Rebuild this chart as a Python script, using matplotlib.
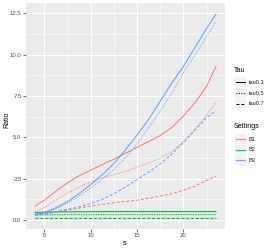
import matplotlib
matplotlib.use("Agg")
import matplotlib.pyplot as plt
from matplotlib.lines import Line2D
from matplotlib.patches import Rectangle
import numpy as np

plt.rcParams["font.family"] = ["Liberation Sans", "DejaVu Sans"]

s = [4, 5, 6.25, 7.5, 8.75, 10, 11.25, 12.5, 13.75, 15, 16.25, 17.5, 18.75,
     20, 21.25, 22.5, 23.5]

B1_tau03 = [0.85, 1.2, 1.75, 2.25, 2.68, 3.02, 3.36, 3.68, 4.05, 4.4, 4.75,
            5.12, 5.6, 6.3, 7.1, 8.1, 9.3]
B1_tau05 = [0.5, 0.75, 1.2, 1.65, 2.0, 2.3, 2.55, 2.75, 2.95, 3.2, 3.45,
            3.75, 4.15, 4.75, 5.5, 6.35, 7.15]
B1_tau07 = [0.3, 0.4, 0.5, 0.6, 0.72, 0.85, 0.95, 1.05, 1.12, 1.2, 1.32,
            1.45, 1.6, 1.8, 2.05, 2.4, 2.65]

B2_tau03 = [0.46, 0.48, 0.5, 0.5, 0.51, 0.51, 0.52, 0.52, 0.52, 0.52, 0.52,
            0.52, 0.52, 0.52, 0.52, 0.52, 0.52]
B2_tau05 = [0.32, 0.33, 0.33, 0.34, 0.34, 0.34, 0.34, 0.34, 0.34, 0.34, 0.34,
            0.34, 0.34, 0.34, 0.34, 0.34, 0.34]
B2_tau07 = [0.12, 0.12, 0.12, 0.12, 0.12, 0.12, 0.12, 0.12, 0.12, 0.12, 0.12,
            0.12, 0.12, 0.12, 0.12, 0.12, 0.12]

B3_tau03 = [0.35, 0.45, 0.75, 1.12, 1.6, 2.15, 2.75, 3.42, 4.25, 5.15, 6.1,
            7.2, 8.3, 9.3, 10.45, 11.6, 12.45]
B3_tau05 = [0.3, 0.4, 0.68, 1.02, 1.45, 1.95, 2.48, 3.05, 3.77, 4.6, 5.6,
            6.6, 7.7, 8.9, 10.0, 11.1, 12.0]
B3_tau07 = [0.3, 0.35, 0.5, 0.65, 0.8, 1.0, 1.25, 1.6, 2.0, 2.45, 2.9,
            3.4, 4.0, 4.7, 5.45, 6.2, 6.6]

settings = ["B1", "B2", "B3"]
taus = ["tau0.3", "tau0.5", "tau0.7"]
colors = {"B1": "#F8766D", "B2": "#00BA38", "B3": "#619CFF"}
styles = {"tau0.3": "-", "tau0.5": (0, (1, 1.5)), "tau0.7": (0, (3, 2))}
series = {
    ("B1", "tau0.3"): B1_tau03, ("B1", "tau0.5"): B1_tau05, ("B1", "tau0.7"): B1_tau07,
    ("B2", "tau0.3"): B2_tau03, ("B2", "tau0.5"): B2_tau05, ("B2", "tau0.7"): B2_tau07,
    ("B3", "tau0.3"): B3_tau03, ("B3", "tau0.5"): B3_tau05, ("B3", "tau0.7"): B3_tau07,
}

W, H = 272, 249
fig = plt.figure(figsize=(W/100, H/100), dpi=100)
ax = fig.add_axes([26/W, 1-229/H, 199/W, 226/H])
ax.set_facecolor("#EBEBEB")
for sp in ax.spines.values():
    sp.set_visible(False)

ax.set_xlim(3.025, 24.475)
ax.set_ylim(-0.54, 13.13)
ax.set_xticks([5, 10, 15, 20])
ax.set_xticks([7.5, 12.5, 17.5, 22.5], minor=True)
ax.set_yticks([0, 2.5, 5, 7.5, 10, 12.5])
ax.set_yticks([1.25, 3.75, 6.25, 8.75, 11.25], minor=True)
ax.set_yticklabels(["0.0", "2.5", "5.0", "7.5", "10.0", "12.5"])
ax.grid(which="major", color="white", lw=0.75)
ax.grid(which="minor", color="white", lw=0.4)
ax.set_axisbelow(True)
ax.tick_params(which="major", length=2, width=0.5, color="#333333",
               labelsize=4.3, labelcolor="#4D4D4D", pad=1.2)
ax.tick_params(which="minor", length=0)

for st in settings:
    for t in taus:
        y = series[(st, t)]
        if st == "B2":
            ax.fill_between(s, np.array(y) - 0.06, np.array(y) + 0.06,
                            color=colors[st], alpha=0.15, lw=0)
        ax.plot(s, y, color=colors[st], ls=styles[t], lw=0.7)

fig.text(125/W, 1-243/H, "s", fontsize=5, ha="center", va="center")
fig.text(6.5/W, 1-120/H, "Ratio", fontsize=5, ha="center", va="center",
         rotation=90)

# manual legends in pixel coordinates
lax = fig.add_axes([0, 0, 1, 1])
lax.set_xlim(0, W)
lax.set_ylim(H, 0)
lax.axis("off")

lax.text(234, 70.5, "Tau", fontsize=5, ha="left", va="center")
for i, t in enumerate(taus):
    yc = 82.3 + i * 10.8
    lax.add_patch(Rectangle((235, yc - 5.2), 10.5, 10.4, color="#F2F2F2", lw=0))
    lax.add_line(Line2D([236, 244.5], [yc, yc], color="black", ls=styles[t], lw=0.7))
    lax.text(248.5, yc, t, fontsize=4.1, ha="left", va="center", color="#1A1A1A")

lax.text(234, 126.7, "Settings", fontsize=5, ha="left", va="center")
for i, st in enumerate(settings):
    yc = 139 + i * 10.7
    lax.add_patch(Rectangle((235, yc - 5.2), 10.5, 10.4, color="#F2F2F2", lw=0))
    lax.add_line(Line2D([236, 244.5], [yc, yc], color=colors[st], lw=0.9,
                        alpha=0.85))
    lax.text(248.5, yc, st, fontsize=4.1, ha="left", va="center", color="#1A1A1A")

fig.savefig("out.png", dpi=100)
